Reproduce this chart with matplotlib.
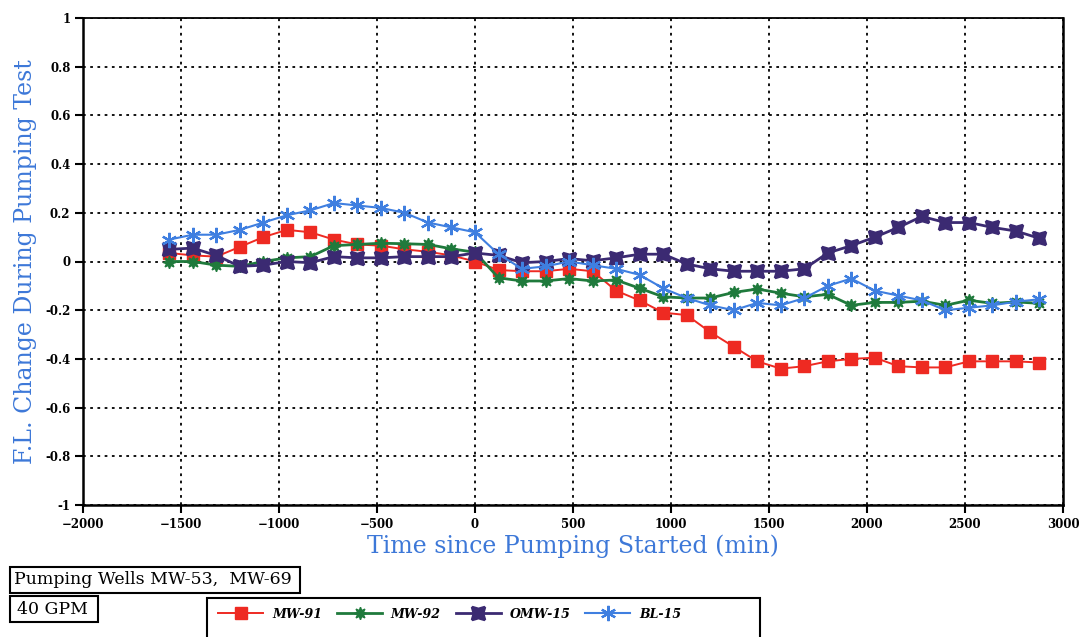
import matplotlib
matplotlib.use("Agg")
import matplotlib.pyplot as plt
from matplotlib.patches import Rectangle

# Time since pumping started (min)
times = [-1560, -1440, -1320, -1200, -1080, -960, -840, -720, -600, -480,
         -360, -240, -120, 0, 120, 240, 360, 480, 600, 720,
         840, 960, 1080, 1200, 1320, 1440, 1560, 1680, 1800, 1920,
         2040, 2160, 2280, 2400, 2520, 2640, 2760, 2880]

# Fluid level change (ft) per monitoring well
mw91 = [0.035, 0.025, 0.02, 0.06, 0.10, 0.13, 0.12, 0.09, 0.07, 0.065,
        0.05, 0.04, 0.025, 0.0, -0.035, -0.04, -0.04, -0.03, -0.04, -0.12,
        -0.16, -0.21, -0.22, -0.29, -0.35, -0.41, -0.44, -0.43, -0.41, -0.40,
        -0.395, -0.43, -0.435, -0.435, -0.41, -0.41, -0.41, -0.415]
mw92 = [0.0, 0.0, -0.015, -0.02, 0.0, 0.015, 0.02, 0.065, 0.07, 0.075,
        0.073, 0.07, 0.052, 0.038, -0.067, -0.08, -0.08, -0.07, -0.08, -0.076,
        -0.11, -0.145, -0.15, -0.15, -0.127, -0.113, -0.13, -0.145, -0.135, -0.18,
        -0.168, -0.168, -0.163, -0.18, -0.159, -0.172, -0.166, -0.172]
omw15 = [0.05, 0.055, 0.025, -0.02, -0.015, 0.0, -0.005, 0.02, 0.015, 0.015,
         0.02, 0.02, 0.02, 0.035, 0.025, -0.005, 0.0, 0.012, 0.003, 0.015,
         0.03, 0.03, -0.01, -0.03, -0.04, -0.04, -0.04, -0.03, 0.035, 0.065,
         0.10, 0.14, 0.185, 0.16, 0.16, 0.14, 0.125, 0.095]
bl15 = [0.09, 0.11, 0.11, 0.13, 0.16, 0.19, 0.21, 0.24, 0.23, 0.22,
        0.20, 0.16, 0.14, 0.12, 0.03, -0.03, -0.02, 0.0, -0.015, -0.03,
        -0.055, -0.11, -0.15, -0.18, -0.20, -0.17, -0.18, -0.15, -0.10, -0.07,
        -0.12, -0.14, -0.16, -0.20, -0.19, -0.18, -0.165, -0.155]

series_names = ["MW-91", "MW-92", "OMW-15", "BL-15"]
x_ticks = [-2000, -1500, -1000, -500, 0, 500, 1000, 1500, 2000, 2500, 3000]
y_ticks = [-1, -0.8, -0.6, -0.4, -0.2, 0, 0.2, 0.4, 0.6, 0.8, 1]
y_tick_labels = ["-1", "-0.8", "-0.6", "-0.4", "-0.2", "0", "0.2", "0.4", "0.6", "0.8", "1"]

RED = "#ee2a22"
GREEN = "#1f7a3c"
PURPLE = "#3b2a72"
BLUE = "#3f7fe0"
LABEL_BLUE = "#3d78d8"

W, H = 1081, 637
fig = plt.figure(figsize=(W / 100, H / 100), dpi=100)
fig.patch.set_facecolor("white")

ax = fig.add_axes([83 / W, 1 - 505 / H, 980 / W, 487 / H])
ax.set_xlim(-2000, 3000)
ax.set_ylim(-1, 1)

styles = [
    dict(color=RED, marker="s", ms=9, lw=1.4, mec=RED, mfc=RED),
    dict(color=GREEN, marker=(8, 1, 0), ms=9, lw=2.0, mec=GREEN, mfc=GREEN),
    dict(color=PURPLE, marker=(4, 1, 45), ms=13, lw=2.0, mec=PURPLE, mfc=PURPLE, mew=2.0),
    dict(color=BLUE, marker=(6, 2, 0), ms=11, lw=1.5, mec=BLUE, mew=1.6),
]
data = [mw91, mw92, omw15, bl15]
handles = []
for name, vals, st in zip(series_names, data, styles):
    ln, = ax.plot(times, vals, label=name, zorder=3, **st)
    handles.append(ln)

ax.set_xticks(x_ticks)
ax.set_yticks(y_ticks)
ax.set_yticklabels(y_tick_labels)
ax.grid(True, color="black", linestyle=(0, (1.5, 2.5)), linewidth=1.3)
ax.set_axisbelow(True)
for lab in ax.get_xticklabels() + ax.get_yticklabels():
    lab.set_fontfamily("DejaVu Serif")
    lab.set_fontweight("bold")
    lab.set_fontsize(8.5)
ax.tick_params(axis="both", direction="out", length=6, width=1.5, color="black", pad=3)
for side in ["left", "bottom", "right"]:
    ax.spines[side].set_linewidth(1.8)
    ax.spines[side].set_color("black")
ax.spines["top"].set_linewidth(1.3)
ax.spines["top"].set_color("black")

ax.set_xlabel("Time since Pumping Started (min)", fontfamily="DejaVu Serif",
              fontsize=17, color=LABEL_BLUE, labelpad=3)
ax.set_ylabel("F.L. Change During Pumping Test", fontfamily="DejaVu Serif",
              fontsize=17, color=LABEL_BLUE, labelpad=6)

# Annotation boxes beneath the plot
def fig_box(x0, y0, x1, y1):
    fig.patches.append(Rectangle((x0 / W, 1 - y1 / H), (x1 - x0) / W, (y1 - y0) / H,
                                 transform=fig.transFigure, fill=False,
                                 edgecolor="black", linewidth=1.5))

fig_box(10, 567, 300, 593)
fig.text(14 / W, 1 - 580 / H, "Pumping Wells MW-53,  MW-69", fontfamily="DejaVu Serif",
         fontsize=12.5, va="center", ha="left")
fig_box(10, 596, 98, 622)
fig.text(17 / W, 1 - 609 / H, "40 GPM", fontfamily="DejaVu Serif",
         fontsize=12.5, va="center", ha="left")

fig_box(207, 598, 760, 660)
leg = fig.legend(handles=handles, loc="center left",
                 bbox_to_anchor=(207 / W, 1 - 614 / H), ncol=4, frameon=False,
                 handlelength=3.6, columnspacing=1.2, handletextpad=0.7,
                 prop=dict(family="DejaVu Serif", style="italic", weight="bold", size=9))

fig.savefig("out.png", dpi=100)
